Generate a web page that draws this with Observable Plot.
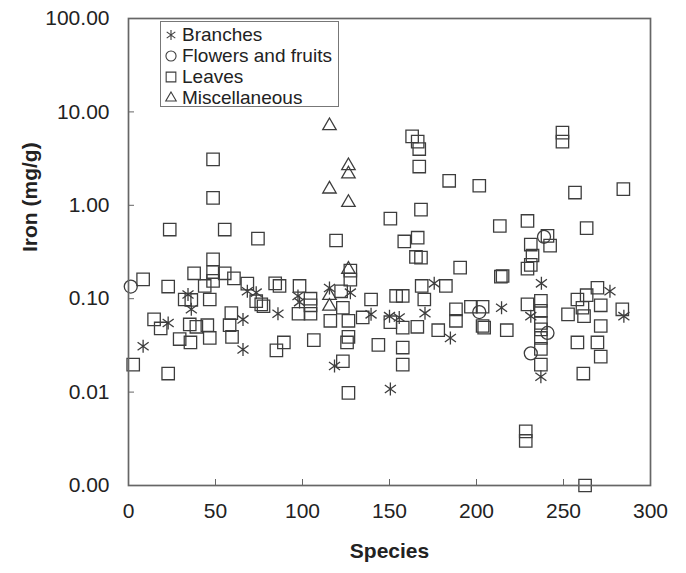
<!DOCTYPE html>
<html><head><meta charset="utf-8">
<script src="https://cdn.jsdelivr.net/npm/d3@7"></script>
<script src="https://cdn.jsdelivr.net/npm/@observablehq/plot@0.6"></script>
<style>
body{margin:0;background:#fff;font-family:"Liberation Sans",Arial,sans-serif;}
#wrap{position:relative;width:686px;height:573px;}
#legend{position:absolute;left:160px;top:21px;width:179px;height:86px;border:1px solid #777;background:#fff;box-sizing:border-box;color:#222;font-size:19px;}
#legend .row{position:absolute;left:0;height:21px;display:flex;align-items:center;white-space:nowrap;}
#legend svg{margin-left:3px;margin-right:4px;}
</style></head><body><div id="wrap"></div>
<script>
// Data (species index, iron mg/g)
const branchesX = [8.4, 22.8, 34.2, 36.1, 65.8, 65.8, 68.3, 73.4, 85.9, 97.4, 98.3, 115.5, 118.4, 127.5, 139.4, 150, 155.6, 150.5, 170.4, 175.7, 185, 214.4, 231.2, 237.3, 237, 276.7, 284.7];
const branchesY = [0.031, 0.055, 0.111, 0.077, 0.060, 0.0286, 0.120, 0.116, 0.069, 0.107, 0.092, 0.130, 0.019, 0.116, 0.068, 0.065, 0.063, 0.0108, 0.070, 0.146, 0.038, 0.080, 0.065, 0.146, 0.0146, 0.120, 0.065];

const flowersX = [1.3, 201.6, 231.2, 238.8, 240.8];
const flowersY = [0.135, 0.072, 0.026, 0.46, 0.043];

const leavesX = [2.7, 8.4, 14.7, 18.5, 22.8, 22.8, 23.7, 29.4, 32.3, 35.2, 35.6, 36.1, 37.7, 39, 43.8, 45.3, 46.7, 46.7, 48.6, 48.6, 48.6, 48.6, 48.6, 55.3, 55.3, 58.1, 59.1, 59.5, 60.6, 68.3, 73.4, 74.4, 76.3, 77.6, 84.3, 86.8, 85, 89.3, 97.7, 98.3, 104.6, 104.6, 104.6, 106.5, 116, 119.3, 122.2, 123.2, 123.2, 125.6, 126.4, 126.4, 126.4, 127.5, 127.5, 134.6, 139.4, 143.6, 150.5, 150.5, 153.8, 157.6, 157.6, 157.6, 157.6, 158.5, 163, 166.2, 167.1, 167.1, 168.1, 166.2, 165.2, 168.1, 168.5, 170, 166, 178, 182.4, 184.3, 188.2, 188.2, 190.6, 196.8, 201.6, 203.5, 203.5, 204.4, 213.4, 214, 215, 217.4, 228.3, 228.3, 229.3, 229.3, 231.2, 231.2, 232.2, 229.3, 237, 237, 237, 237, 237, 237, 237, 240.8, 242.3, 249.4, 249.4, 252.6, 256.6, 258, 258, 260.9, 261.8, 261.4, 262.4, 263.3, 263.3, 269.5, 269.5, 271.4, 271.4, 271.4, 283.8, 284.4];
const leavesY = [0.0197, 0.161, 0.060, 0.048, 0.135, 0.0158, 0.55, 0.037, 0.098, 0.053, 0.034, 0.097, 0.187, 0.050, 0.137, 0.052, 0.098, 0.038, 3.1, 1.2, 0.264, 0.193, 0.155, 0.55, 0.187, 0.052, 0.070, 0.039, 0.165, 0.145, 0.094, 0.44, 0.087, 0.083, 0.146, 0.137, 0.028, 0.034, 0.069, 0.137, 0.100, 0.085, 0.069, 0.036, 0.058, 0.42, 0.120, 0.080, 0.0214, 0.034, 0.058, 0.039, 0.0098, 0.20, 0.16, 0.063, 0.098, 0.032, 0.72, 0.056, 0.107, 0.107, 0.049, 0.030, 0.0197, 0.41, 5.47, 4.8, 4.0, 2.6, 0.90, 0.45, 0.28, 0.275, 0.137, 0.098, 0.050, 0.046, 0.137, 1.83, 0.077, 0.058, 0.215, 0.082, 1.62, 0.082, 0.051, 0.049, 0.60, 0.172, 0.175, 0.046, 0.0038, 0.0030, 0.68, 0.21, 0.23, 0.38, 0.29, 0.087, 0.095, 0.074, 0.055, 0.047, 0.038, 0.029, 0.0197, 0.47, 0.37, 6.0, 4.8, 0.068, 1.37, 0.098, 0.034, 0.080, 0.065, 0.0158, 0.001, 0.57, 0.109, 0.131, 0.034, 0.085, 0.051, 0.024, 0.077, 1.49];

const miscX = [115.5, 115.5, 115.5, 115.5, 126.4, 126.4, 126.4, 126.4];
const miscY = [7.1, 1.49, 0.108, 0.083, 2.65, 2.16, 1.07, 0.206];

const seriesNames = ["Branches", "Flowers and fruits", "Leaves", "Miscellaneous"];
const xTicks = [0, 50, 100, 150, 200, 250, 300];
const yTicks = [0.001, 0.01, 0.1, 1, 10, 100];

// Asterisk drawn as an X with a vertical bar (six arms)
const starX = {
  draw(ctx, size) {
    const r = Math.sqrt(size / Math.PI);
    const a = r * 0.85, b = r * 0.62;
    ctx.moveTo(0, -r); ctx.lineTo(0, r);
    ctx.moveTo(-a, -b); ctx.lineTo(a, b);
    ctx.moveTo(-a, b); ctx.lineTo(a, -b);
  }
};

const pts = (xs, ys) => xs.map((x, i) => ({species: x, iron: ys[i]}));
const series = [
  {name: seriesNames[0], data: pts(branchesX, branchesY), symbol: starX, r: 6.5},
  {name: seriesNames[1], data: pts(flowersX, flowersY), symbol: d3.symbolCircle, r: 6.5},
  {name: seriesNames[2], data: pts(leavesX, leavesY), symbol: d3.symbolSquare, r: 7},
  {name: seriesNames[3], data: pts(miscX, miscY), symbol: d3.symbolTriangle, r: 5}
];

const ink = "#3d3d3d";
const chart = Plot.plot({
  width: 686, height: 573,
  marginLeft: 128, marginRight: 36, marginTop: 18, marginBottom: 88,
  style: {fontFamily: "'Liberation Sans', Arial, sans-serif", color: "#222", background: "white", overflow: "visible"},
  x: {domain: [0, 300]},
  y: {type: "log", domain: [0.001, 100]},
  marks: [
    ...series.map(s => Plot.dot(s.data, {x: "species", y: "iron", symbol: s.symbol, r: s.r, stroke: ink, strokeWidth: 1.3, fill: "none"})),
    Plot.frame({stroke: "#666", strokeWidth: 1.7}),
    Plot.axisX({ticks: xTicks, tickSize: 6, dy: -6, tickFormat: () => "", label: null, stroke: "#666"}),
    Plot.axisY({ticks: yTicks, tickSize: 6, dx: 6, tickFormat: () => "", label: null, stroke: "#666"}),
    Plot.axisX({ticks: xTicks, tickSize: 0, tickPadding: 18, tickFormat: d => String(d), label: null, fontSize: 21}),
    Plot.axisY({ticks: yTicks, tickSize: 0, tickPadding: 19, tickFormat: d => d.toFixed(2), label: null, fontSize: 21}),
    Plot.text(["Species"], {frameAnchor: "bottom", dy: 72, fontSize: 21, fontWeight: "bold"}),
    Plot.text(["Iron (mg/g)"], {frameAnchor: "left", dx: -98, rotate: -90, fontSize: 21, fontWeight: "bold"})
  ]
});
const wrap = document.getElementById("wrap");
wrap.appendChild(chart);

// Legend overlay
const legend = document.createElement("div");
legend.id = "legend";
series.forEach((s, i) => {
  const row = document.createElement("div");
  row.className = "row";
  row.style.top = (2 + i * 21) + "px";
  const sz = 14;
  const svg = d3.create("svg").attr("width", sz).attr("height", sz).attr("viewBox", `${-sz/2} ${-sz/2} ${sz} ${sz}`);
  const legendR = s.r * 0.78;
  svg.append("path").attr("d", d3.symbol(s.symbol, Math.PI * legendR * legendR)()).attr("fill", "none").attr("stroke", ink).attr("stroke-width", 1.1);
  row.appendChild(svg.node());
  const span = document.createElement("span");
  span.textContent = s.name;
  row.appendChild(span);
  legend.appendChild(row);
});
wrap.appendChild(legend);
</script>
</body></html>
